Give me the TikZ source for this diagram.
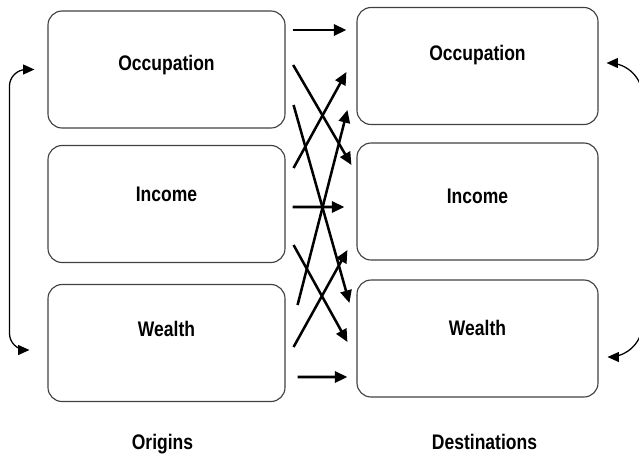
\documentclass[tikz,border=0pt]{standalone}
\usepackage{fontspec}
\newfontfamily\diagfont{Liberation Sans}[FakeStretch=0.83]
\usetikzlibrary{arrows.meta}

\begin{document}
\begin{tikzpicture}[
  font=\diagfont\bfseries\fontsize{15}{18}\selectfont,
  box/.style={draw=black!75, line width=0.8pt, rounded corners=10pt,
              minimum width=5.925cm, minimum height=2.925cm,
              text height=0.72em, text depth=#1},
  sidelabel/.style={text height=0.72em, text depth=0pt},
  arr/.style={-{Triangle[length=9pt,width=8pt]}, line width=1.8pt},
  backarr/.style={{Triangle[length=8pt,width=7pt]}-{Triangle[length=8pt,width=7pt]},
                  line width=0.9pt}
]
\useasboundingbox (0,0) rectangle (15.975,-11.425);
\clip (0,0) rectangle (15.975,-11.425);
\node[box=0.225cm] (occL) at (4.1625,-1.7375) {Occupation};
\node[box=0.4cm] (incL) at (4.1625,-5.1) {Income};
\node[box=0.6cm] (wltL) at (4.1625,-8.575) {Wealth};
\node[box=0.55cm, minimum width=6.025cm] (occR) at (11.9375,-1.65) {Occupation};
\node[box=0.175cm, minimum width=6.025cm] (incR) at (11.9375,-5.0375) {Income};
\node[box=0.425cm, minimum width=6.025cm] (wltR) at (11.9375,-8.4625) {Wealth};
\node[sidelabel] (orig) at (4.0625,-11.1) {Origins};
\node[sidelabel] (dest) at (12.1125,-11.1) {Destinations};
\draw[arr] ([shift={(0.175,0.9875)}]occL.east) -- ([shift={(-0.25,0.9)}]occR.west);
\draw[arr] ([shift={(0.19,0.1125)}]occL.east) -- ([shift={(-0.125,0.9125)}]incR.west);
\draw[arr] ([shift={(0.2,0.9)}]incL.east) -- ([shift={(-0.25,-0.15)}]occR.west);
\draw[arr] ([shift={(0.2,-0.8875)}]occL.east) -- ([shift={(-0.175,0.8875)}]wltR.west);
\draw[arr] ([shift={(0.3,0.95)}]wltL.east) -- ([shift={(-0.225,-1.1)}]occR.west);
\draw[arr] ([shift={(0.175,-0.075)}]incL.east) -- ([shift={(-0.3,-0.1375)}]incR.west);
\draw[arr] ([shift={(0.2,-1.025)}]incL.east) -- ([shift={(-0.225,-0.0875)}]wltR.west);
\draw[arr] ([shift={(0.2,-0.1)}]wltL.east) -- ([shift={(-0.225,-1.2125)}]incR.west);
\draw[arr] ([shift={(0.3,-0.85)}]wltL.east) -- ([shift={(-0.225,-0.9625)}]wltR.west);
\draw[backarr, rounded corners=12pt] ([shift={(-0.325,0)}]occL.west)
  -| ([shift={(-0.95,-0.175)}]wltL.west) -- ([shift={(-0.45,-0.175)}]wltL.west);
\draw[backarr, rounded corners=24pt] ([shift={(0.2,0.075)}]occR.east)
  -| ([shift={(1.1,-0.4625)}]wltR.east) -- ([shift={(0.225,-0.4625)}]wltR.east);
\end{tikzpicture}
\end{document}
